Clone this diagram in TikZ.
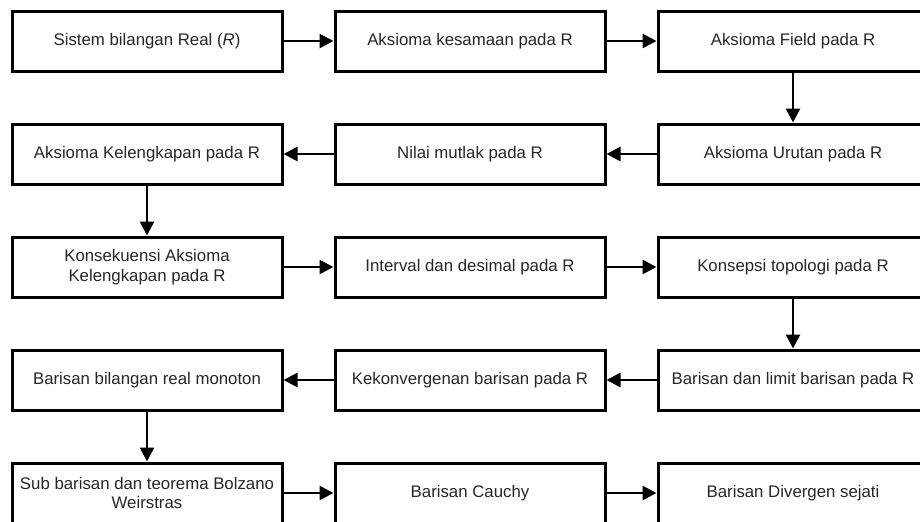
\documentclass[tikz,border=0pt]{standalone}
\usepackage{fontspec}
\setmainfont{Liberation Sans}
\usetikzlibrary{arrows.meta}
\usetikzlibrary{positioning}
\tikzset{
  materi/.style={draw, line width=1.5pt, minimum width=135pt, minimum height=30pt,
    align=center, inner sep=1pt, text=black!85, font=\fontsize{8.4}{9.8}\selectfont}
}

\begin{document}
\begin{tikzpicture}[> = {Triangle[length=7pt,width=7pt]}, node distance=56.5pt and 161.5pt, on grid,
    line width=1.3pt, x=0.5pt, y=-0.5pt]
        \clip (0,0) rectangle (920,521);
        \node[materi] (b_1)  at (147,41)         {Sistem bilangan Real (\textit{R})};
        \node[materi] (b_2)  [right=of b_1]      {Aksioma kesamaan pada R};
        \node[materi] (b_3)  [right=of b_2]      {Aksioma Field pada R};
        \node[materi] (b_4)  [below=of b_3]      {Aksioma Urutan pada R};
        \node[materi] (b_5)  [left=of b_4]       {Nilai mutlak pada R};
        \node[materi] (b_6)  [left=of b_5]       {Aksioma Kelengkapan pada R};
        \node[materi] (b_7)  [below=of b_6]      {Konsekuensi Aksioma\\Kelengkapan pada R};
        \node[materi] (b_8)  [right=of b_7]      {Interval dan desimal pada R};
        \node[materi] (b_9)  [right=of b_8]      {Konsepsi topologi pada R};
        \node[materi] (b_10) [below=of b_9]      {Barisan dan limit barisan pada R};
        \node[materi] (b_11) [left=of b_10]      {Kekonvergenan barisan pada R};
        \node[materi] (b_12) [left=of b_11]      {Barisan bilangan real monoton};
        \node[materi] (b_13) [below=of b_12]     {Sub barisan dan teorema Bolzano\\Weirstras};
        \node[materi] (b_14) [right=of b_13]     {Barisan Cauchy};
        \node[materi] (b_15) [right=of b_14]     {Barisan Divergen sejati};

        \path[->] (b_1)  edge (b_2)
                  (b_2)  edge (b_3)
                  (b_3)  edge (b_4)
                  (b_4)  edge (b_5)
                  (b_5)  edge (b_6)
                  (b_6)  edge (b_7)
                  (b_7)  edge (b_8)
                  (b_8)  edge (b_9)
                  (b_9)  edge (b_10)
                  (b_10) edge (b_11)
                  (b_11) edge (b_12)
                  (b_12) edge (b_13)
                  (b_13) edge (b_14)
                  (b_14) edge (b_15);
      \end{tikzpicture}
\end{document}
